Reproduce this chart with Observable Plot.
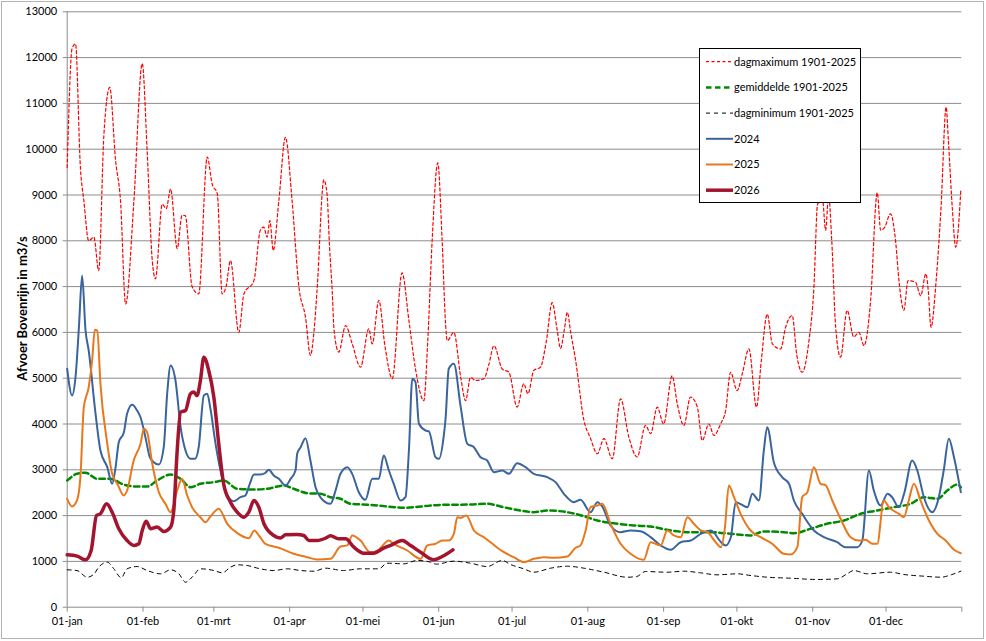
<!DOCTYPE html>
<html><head><meta charset="utf-8">
<script src="https://cdn.jsdelivr.net/npm/d3@7"></script>
<script src="https://cdn.jsdelivr.net/npm/@observablehq/plot@0.6"></script>
<style>
body{margin:0;background:#fff;}
#wrap{position:relative;width:986px;height:641px;font-family:Lato,sans-serif;}
#frame{position:absolute;left:1px;top:1px;width:981px;height:636px;border:1px solid #b4b4b4;pointer-events:none;}
#legend{position:absolute;left:699px;top:48px;width:160px;height:153px;border:1px solid #000;background:#fff;}
</style></head><body>
<div id="wrap"><div id="frame"></div></div>
<script>
const monthStarts=[0,31,60,91,121,152,182,213,244,274,305,335,366];
const monthLabels=["01-jan","01-feb","01-mrt","01-apr","01-mei","01-jun","01-jul","01-aug","01-sep","01-okt","01-nov","01-dec",""];
const yTicks=[0,1000,2000,3000,4000,5000,6000,7000,8000,9000,10000,11000,12000,13000];
const yTitle="Afvoer Bovenrijn in m3/s";
const seriesNames=["dagmaximum 1901-2025","gemiddelde 1901-2025","dagminimum 1901-2025","2024","2025","2026"];

// [day of year, m3/s]
const dagmaximum=[[0,9600],[2,12200],[3.4,12300],[5.4,9600],[6.8,8880],[8.8,8000],[10.9,8080],[12.9,7350],[15,10300],[17.4,11350],[19.8,9750],[21.8,8880],[23.9,6620],[27.3,8880],[30.7,11870],[32.7,9970],[34.8,7570],[36.1,7170],[38.9,8800],[40.5,8700],[42.3,9130],[45,7830],[47,8560],[48.3,8550],[51.1,7000],[53.8,6840],[57.3,9830],[59.3,9240],[61.4,9030],[63.4,6840],[65,7000],[66.8,7570],[70.2,6000],[72.3,6840],[76.4,7130],[79,8230],[80.4,8300],[81.8,8080],[82.9,8440],[84.3,7790],[86.6,8880],[89.3,10260],[92,8880],[94.8,6990],[97.5,6330],[99.5,5500],[101,6040],[102.3,6990],[105,9330],[106.3,9030],[107.3,7900],[108.4,6920],[109.2,6040],[111.1,5570],[113.9,6150],[116.6,5750],[120,5240],[123.4,6080],[124.8,5750],[127.5,6700],[130,5700],[133,4990],[137,7300],[139.8,6260],[142.5,5200],[145.9,4510],[147.5,5800],[149.3,8000],[151.6,9700],[153.4,8000],[154.8,6190],[155.5,5820],[158.2,6000],[161,5020],[163,4510],[165,5020],[167,4950],[170.5,4990],[172.5,5300],[174.6,5710],[178,5200],[180.7,5130],[184.1,4370],[186.8,4880],[188.5,4660],[190.9,5170],[193.6,5240],[196,5800],[198.4,6650],[200.5,6040],[201.8,5650],[203.5,6100],[204.6,6440],[206,6000],[208,5390],[211.4,4080],[214,3700],[216.9,3350],[219.6,3680],[223,3240],[226.4,4550],[229.8,3710],[233.2,3280],[236.6,3970],[238.7,3790],[241.4,4370],[244,4000],[247.5,5050],[249.6,4440],[252.3,3970],[255,4590],[257.8,4370],[259.8,3640],[262.5,4000],[264.6,3750],[267.3,4000],[269.4,4300],[271.4,5130],[274.1,4730],[276.2,5100],[278.9,5640],[282,4370],[284,5400],[286.4,6400],[288.5,5750],[291.9,5640],[293.9,6110],[296.6,6370],[298.5,5500],[300.7,5130],[303.4,5790],[305.5,6990],[307,8800],[309,8900],[310.3,8230],[311.5,9000],[312.8,8000],[314.4,6110],[316.4,5460],[319.1,6480],[321.8,5900],[323.9,6000],[326,5710],[328.7,6700],[331.4,9050],[332.8,8230],[334.5,8300],[336.8,8590],[338.9,8000],[340.3,7130],[342.3,6480],[344,7130],[347,7100],[349.2,6800],[351.3,7280],[352.3,6900],[353.4,6110],[355.5,7130],[357.5,8730],[359.6,10920],[360.5,10200],[362.1,8730],[363.5,7860],[365.6,9100]];

const gemiddelde=[[0,2766],[4,2912],[7.5,2935],[12.3,2803],[17.7,2803],[23,2679],[28.6,2635],[32.7,2635],[36.8,2766],[42.3,2897],[46.4,2803],[50.4,2620],[54.5,2694],[60,2730],[64,2766],[69.6,2585],[76.4,2570],[81.8,2585],[88.6,2657],[92.7,2585],[98.2,2490],[103.6,2476],[107.7,2402],[111.8,2367],[115.9,2257],[124,2236],[130.9,2199],[137.7,2170],[144.6,2199],[154,2236],[165,2242],[171.8,2257],[178.6,2183],[185.5,2111],[190.9,2074],[196.4,2111],[204.6,2074],[211.4,1987],[216.9,1893],[223.6,1834],[231.8,1784],[238.7,1762],[246.8,1675],[255,1638],[263.2,1638],[271.4,1603],[279.6,1566],[285,1653],[293.2,1638],[297.3,1616],[304.1,1712],[310.9,1821],[317.8,1893],[324.6,2039],[331.4,2111],[338.2,2183],[345,2257],[350.5,2402],[356,2367],[360.1,2548],[364.2,2679],[365.6,2620]];

const dagminimum=[[0,816],[4,800],[8.2,655],[10.9,720],[12.9,873],[16.4,983],[19.1,838],[22.1,642],[24.5,838],[28.6,888],[32.7,801],[38.2,729],[42.3,816],[45.7,729],[48.4,546],[51.1,655],[54.5,838],[60,801],[63.4,751],[66.8,873],[69.6,925],[73.6,910],[79,838],[84.5,801],[90,838],[95.5,801],[100.9,786],[105.7,852],[113,801],[120,838],[127.5,838],[130.9,961],[137.7,947],[143.2,1020],[148.7,983],[151,940],[158.2,1005],[165,961],[171.8,888],[178,1020],[181.4,932],[186.8,838],[190.9,764],[197.8,852],[204.6,895],[211.4,852],[219.6,764],[229.1,655],[233,670],[236.6,779],[245.5,764],[252.3,786],[259,751],[265.9,707],[274.1,729],[279.6,692],[286.4,655],[295.9,633],[306.9,605],[315.1,620],[319.1,729],[321.8,801],[327.3,729],[336.8,764],[342.3,714],[350.5,677],[357.5,655],[362,714],[365.6,786]];

const y2024=[[0,5205],[2,4622],[3.4,5022],[4.8,6114],[6.1,7243],[7.5,6041],[8.8,5605],[11.6,4223],[13.6,3421],[16.4,3057],[18.4,2694],[19.8,3057],[21.1,3603],[23.2,3821],[24.5,4223],[26.6,4419],[28.6,4295],[30,4148],[32,3712],[33.8,3275],[35.4,3166],[37.5,3116],[39.5,3493],[40.9,4659],[42.3,5277],[44.3,4950],[46.4,3930],[48.4,3421],[50.5,3240],[52.3,3240],[53.8,3493],[55.9,4622],[57.3,4659],[58.6,4332],[60.7,3567],[62.7,2985],[65.5,2439],[68.2,2314],[70.9,2402],[72.9,2440],[74.7,2694],[76.4,2897],[79,2897],[81,2930],[82.5,3000],[84.5,2876],[86.6,2803],[89.3,2657],[91.4,2803],[93.4,2985],[94.1,3349],[95.5,3493],[97.5,3690],[99.5,3203],[101.6,2620],[103.6,2400],[107.7,2257],[109.8,2548],[111.8,2912],[114.6,3057],[116.6,2912],[119.3,2511],[122,2345],[124.8,2803],[127.5,2803],[129.5,3312],[131.6,2985],[133.6,2694],[136.4,2330],[138.4,2402],[139.8,3421],[141.2,4987],[142.5,4913],[143.9,4004],[146.6,3858],[148,3840],[150.7,3275],[152.1,3240],[154,3712],[154.8,4114],[156.1,5205],[158.2,5314],[161,4367],[163.7,3567],[166.4,3493],[169.1,3275],[171.8,3203],[174.6,2948],[178,2985],[180.7,2912],[184.1,3144],[187.5,3057],[190.9,2912],[196.4,2839],[199.8,2730],[203.2,2476],[207.3,2293],[210,2345],[214.1,2074],[216.9,2293],[218.9,2200],[222.3,1784],[226.4,1638],[230.5,1675],[234.6,1660],[238.7,1530],[242.8,1347],[246.9,1253],[251,1419],[255.1,1456],[259.2,1603],[263.4,1675],[267.5,1419],[269.4,1347],[271.5,1528],[273.5,2293],[278.3,2183],[280.3,2476],[283,2330],[285,3421],[286.4,3930],[289.1,3166],[292.5,2839],[295.3,2694],[297.3,2330],[300.7,2039],[305.5,1675],[309.6,1528],[315,1419],[318.4,1310],[323.2,1310],[325.3,1456],[328,2985],[330,2548],[332.8,2220],[335.6,2476],[337.5,2400],[340.2,2183],[342.5,2500],[345.7,3203],[347.8,2985],[350.5,2402],[353.9,2074],[356.6,2402],[358.6,2985],[360.7,3677],[362.8,3275],[365.6,2511]];

const y2025=[[0,2367],[2,2199],[4,2330],[5.4,2839],[6.8,4367],[8.8,4804],[10.2,5386],[11.3,6056],[12.3,6041],[13.6,4877],[16.4,3567],[18.4,2912],[20.5,2694],[23.2,2439],[24.5,2548],[27.2,3203],[30,3567],[31.4,3895],[32.7,3820],[34.8,3131],[37.5,2511],[40.2,2257],[42.3,2074],[45,2548],[47,2803],[49.1,2439],[51.1,2183],[54.5,1965],[56.6,1856],[58.6,1980],[62,2148],[65.5,1821],[69.6,1616],[74.3,1507],[76.6,1675],[78.5,1560],[81.1,1384],[86.6,1297],[92.7,1166],[98.2,1092],[102.3,1041],[107.7,1056],[111.8,1325],[114.6,1350],[116.6,1566],[120,1456],[124,1201],[126.8,1230],[131.6,1456],[133.6,1384],[139.1,1238],[144.6,1056],[147.3,1347],[150.7,1384],[153.4,1456],[156,1456],[158.2,1603],[159.6,1965],[161,1950],[163.3,2002],[166.4,1675],[170.5,1528],[173.2,1419],[178,1223],[182.7,1092],[186.8,983],[190.9,1056],[195,1092],[199.1,1080],[204.6,1107],[208,1297],[210,1350],[212.1,1675],[214.1,2183],[216.9,2220],[218.9,2257],[222.3,1821],[226.4,1384],[230.5,1166],[235.9,1034],[238.7,1420],[240.7,1384],[242.8,1347],[245.5,1675],[248.2,1566],[251,1528],[253.7,1965],[256.4,1821],[259.2,1675],[261.9,1638],[265.3,1419],[267.5,1310],[269.1,1747],[270.7,2657],[272.8,2402],[275.5,2039],[279.6,1675],[283.7,1528],[288.5,1384],[293.2,1166],[296,1150],[298.7,1310],[300.7,2402],[302.8,2510],[305.5,3057],[308.2,2694],[310.3,2660],[313,2330],[316.4,1930],[320.5,1528],[323.9,1456],[326.6,1470],[329.4,1384],[331.4,1384],[334.1,2330],[336.2,2183],[340.3,2039],[342.3,1965],[344.3,2330],[346.4,2694],[349.1,2330],[351.9,1965],[356,1603],[359.4,1456],[362.8,1253],[365.6,1179]];

const y2026=[[0,1144],[4.1,1114],[7.5,1034],[9.8,1238],[12,2002],[13.6,2040],[16.1,2257],[18.4,2074],[21.1,1712],[24.5,1456],[27.3,1347],[29.3,1384],[30.7,1675],[32.3,1878],[34.1,1712],[36.8,1750],[39.5,1653],[42.3,1747],[43.6,2111],[45,3421],[46.4,4258],[48.4,4295],[50.4,4659],[51.8,4700],[53.1,4620],[54.5,4950],[55.9,5459],[57.9,5168],[60,4585],[62,3567],[64,2694],[66.8,2293],[69.6,2074],[72.3,1965],[74.3,2074],[76.4,2330],[78.4,2183],[80.5,1821],[84.5,1566],[87.2,1510],[89.3,1580],[94,1590],[96.8,1566],[98.9,1456],[102.3,1456],[105.7,1507],[107.7,1560],[111,1493],[113.9,1493],[117.3,1310],[121.4,1179],[125.5,1179],[128.9,1275],[132.3,1350],[137.1,1456],[140.5,1347],[144.6,1201],[150,1034],[153.4,1107],[157.8,1253]];

const colors=["#ff0000","#008a00","#000000","#3a649d","#e9781c","#a3142f"];
const widths=[1.2,2.5,1,2,2,3.5];
const dashes=["3,2.5","5.5,3.5","4,4",null,null,null];
const seriesData=[dagmaximum,gemiddelde,dagminimum,y2024,y2025,y2026];

const chart=Plot.plot({
  width:986,height:641,
  marginLeft:66.7,marginRight:24.7,marginTop:11.3,marginBottom:34.3,
  style:{fontFamily:"Lato, sans-serif",fontSize:"11px",color:"#000",background:"transparent"},
  x:{domain:[0,366],label:null},
  y:{domain:[0,13000],label:null},
  marks:[
    Plot.gridY(yTicks,{stroke:"#8c8c8c",strokeOpacity:1,strokeWidth:1}),
    Plot.ruleX([0],{stroke:"#8c8c8c"}),
    Plot.axisY(yTicks,{tickSize:4,tickPadding:6,stroke:"#8c8c8c",fill:"#000",tickFormat:d3.format("d"),label:null}),
    Plot.axisX(monthStarts,{tickSize:5,tickPadding:5,stroke:"#8c8c8c",fill:"#000",tickFormat:d=>monthLabels[monthStarts.indexOf(d)],label:null}),
    Plot.text([yTitle],{frameAnchor:"left",dx:-44,dy:-1,rotate:-90,textAnchor:"middle",fontWeight:"bold",fontSize:13,fill:"#000"}),
    ...seriesData.map((s,i)=>Plot.line(s,{x:d=>d[0],y:d=>d[1],stroke:colors[i],strokeWidth:widths[i],strokeDasharray:dashes[i]||undefined,curve:"monotone-x",strokeLinejoin:"round"}))
  ]
});
const wrap=document.getElementById("wrap");
wrap.insertBefore(chart,wrap.firstChild);

// legend
const lg=document.createElement("div");lg.id="legend";wrap.appendChild(lg);
const svg=d3.select(lg).append("svg").attr("width",160).attr("height",153);
seriesNames.forEach((n,i)=>{
  const y=12.7+i*25.7;
  svg.append("line").attr("x1",6).attr("x2",33).attr("y1",y).attr("y2",y)
    .attr("stroke",colors[i]).attr("stroke-width",widths[i]).attr("stroke-dasharray",dashes[i]);
  svg.append("text").attr("x",34).attr("y",y).attr("dy","0.35em").attr("font-size",11)
    .attr("font-family","Lato, sans-serif").text(n);
});
</script>
</body></html>
